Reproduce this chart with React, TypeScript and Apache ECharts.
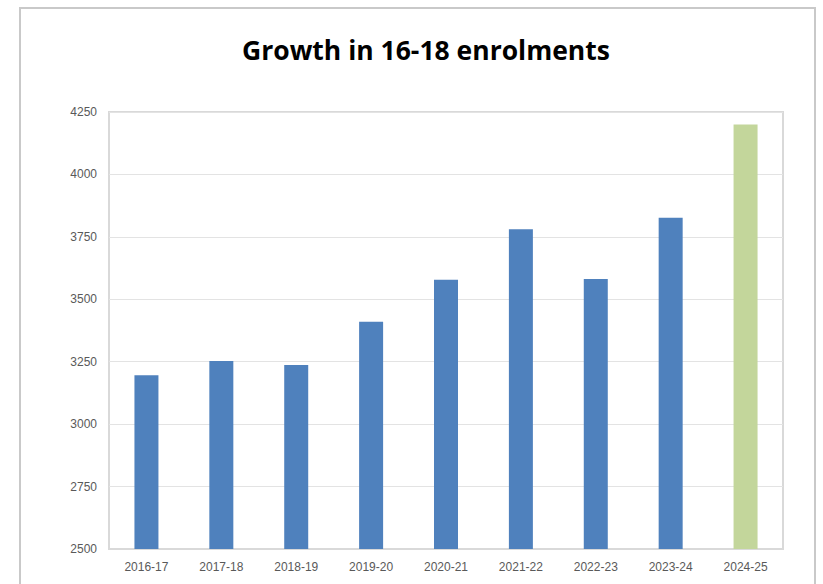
import React, { useEffect, useRef } from "react";
import * as echarts from "echarts";

const categories = ["2016-17", "2017-18", "2018-19", "2019-20", "2020-21", "2021-22", "2022-23", "2023-24", "2024-25"];
const enrolments = [3196, 3253, 3237, 3410, 3578, 3780, 3581, 3827, 4200];
const yTicks = { min: 2500, max: 4250, interval: 250 };
const titleText = "Growth in 16-18 enrolments";

const BLUE = "#4F81BD";
const GREEN = "#C3D69B";

export default function App() {
  const ref = useRef<HTMLDivElement>(null);
  useEffect(() => {
    document.body.style.margin = "0";
    const chart = echarts.init(ref.current!, null, { renderer: "svg" });
    chart.setOption({
      animation: false,
      backgroundColor: "#ffffff",
      graphic: [
        {
          type: "rect",
          shape: { x: 20, y: 8, width: 795, height: 620 },
          style: { fill: "none", stroke: "#c9c9c9", lineWidth: 2 },
          silent: true,
        },
        {
          type: "text",
          x: 426,
          y: 50,
          style: {
            text: titleText,
            fontFamily: "Open Sans",
            fontWeight: "bold",
            fontSize: 26.5,
            fill: "#000000",
            textAlign: "center",
            textVerticalAlign: "middle",
          },
        },
      ],
      grid: {
        left: 109,
        top: 112,
        right: 40,
        bottom: 35,
        show: true,
        borderColor: "#d9d9d9",
        borderWidth: 2,
        backgroundColor: "transparent",
      },
      xAxis: {
        type: "category",
        data: categories,
        axisLine: { show: true, lineStyle: { color: "#d9d9d9", width: 2 } },
        axisTick: { show: false },
        axisLabel: {
          color: "#595959",
          fontSize: 12,
          fontFamily: "Liberation Sans",
          margin: 12,
        },
      },
      yAxis: {
        type: "value",
        min: yTicks.min,
        max: yTicks.max,
        interval: yTicks.interval,
        axisLine: { show: false },
        axisTick: { show: false },
        splitLine: { lineStyle: { color: "#e3e3e3", width: 1 } },
        axisLabel: {
          color: "#595959",
          fontSize: 12,
          fontFamily: "Liberation Sans",
          margin: 12,
          formatter: (v: number) => String(v),
        },
      },
      series: [
        {
          type: "bar",
          barWidth: 24,
          data: enrolments.map((v, i) => ({
            value: v,
            itemStyle: { color: i === enrolments.length - 1 ? GREEN : BLUE },
          })),
        },
      ],
    });
    return () => chart.dispose();
  }, []);
  return <div ref={ref} style={{ position: "absolute", left: 0, top: 0, width: 823, height: 584 }} />;
}
